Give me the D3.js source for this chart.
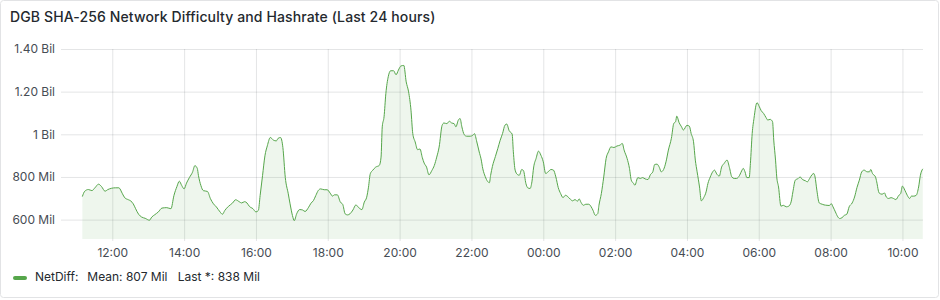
<!DOCTYPE html>
<html><head><meta charset="utf-8">
<script src="https://cdn.jsdelivr.net/npm/d3@7"></script>
<style>
body{margin:0;background:#fff;}
svg{display:block;font-family:Inter,"Noto Sans",sans-serif;}
</style>
</head><body>
<svg id="c" width="940" height="300"></svg>
<script>
const chartTitle = "DGB SHA-256 Network Difficulty and Hashrate (Last 24 hours)";
const rangeStart = "10:34:20";
const rangeEnd = "10:34:20";
const times = [
"11:10","11:14","11:20","11:26","11:31","11:37","11:42","11:48","11:52","11:59",
"12:05","12:11","12:17","12:21","12:27","12:31","12:35","12:39","12:44","12:49",
"12:55","13:02","13:06","13:11","13:17","13:23","13:31","13:38","13:43","13:48",
"13:52","13:56","14:00","14:04","14:09","14:14","14:18","14:22","14:24","14:28",
"14:32","14:39","14:44","14:49","14:54","15:00","15:04","15:08","15:14","15:21",
"15:26","15:32","15:36","15:41","15:45","15:49","15:55","16:00","16:04","16:07",
"16:11","16:15","16:19","16:24","16:29","16:34","16:37","16:41","16:45","16:49",
"16:54",
"16:57","17:01","17:04","17:08","17:13","17:18","17:22","17:28","17:32","17:36",
"17:40","17:44","17:48","17:54","17:59","18:04","18:08","18:11","18:16","18:21",
"18:25","18:29","18:33","18:37","18:42","18:47","18:51","18:57","19:01","19:05",
"19:08","19:11","19:15","19:20","19:26","19:29","19:31","19:34","19:37","19:41",
"19:45","19:50","19:54","19:58","20:02","20:07","20:11","20:15","20:19","20:22",
"20:26","20:30","20:34","20:38","20:41","20:45","20:49","20:54","20:58","21:02",
"21:06","21:11","21:14","21:19","21:23","21:27","21:31","21:34","21:38","21:41",
"21:44","21:48","21:52","21:58","22:02","22:05","22:09","22:13","22:16","22:19",
"22:23","22:27","22:30","22:32","22:35","22:40","22:44","22:48",
"22:52","22:56","22:59","23:03","23:08","23:10","23:13","23:17","23:20","23:24",
"23:27","23:31","23:34","23:38","23:41","23:44","23:48","23:52","23:56","00:00",
"00:04","00:08","00:13","00:17","00:21","00:25","00:29","00:33","00:37","00:40",
"00:45","00:49","00:53","00:57","01:00","01:03","01:07","01:11","01:16","01:20",
"01:23","01:27","01:31","01:33","01:37","01:41","01:45","01:49","01:53","01:58",
"02:03","02:08","02:12","02:15","02:20","02:24","02:27","02:31","02:33","02:38",
"02:42","02:46","02:50","02:55","02:59","03:03","03:06","03:10","03:14","03:17",
"03:21","03:25","03:29","03:34","03:38","03:41","03:43","03:47","03:51","03:54",
"04:00","04:04","04:07","04:11","04:14","04:17","04:21","04:24","04:28","04:32",
"04:35","04:39",
"04:43","04:46","04:50","04:54","04:58","05:02","05:07","05:11","05:15","05:19",
"05:23","05:28","05:32","05:34","05:37","05:40","05:44","05:46","05:49","05:52",
"05:57","06:01","06:04","06:08","06:12","06:15","06:19","06:23","06:25","06:28",
"06:30","06:33","06:37","06:41","06:46","06:50","06:54","06:57","07:01","07:06",
"07:09","07:13","07:18","07:21","07:25","07:29","07:32","07:34","07:37","07:41",
"07:46","07:49","07:54","07:58","08:01","08:04","08:08","08:12","08:15","08:19",
"08:23","08:27","08:31","08:36","08:40","08:44","08:48","08:52","08:56","09:01",
"09:05","09:07","09:10","09:15","09:17","09:21","09:26","09:30","09:33","09:37",
"09:41","09:45","09:49","09:54","09:57","10:00","10:04","10:08","10:12","10:15",
"10:19","10:23","10:27","10:30","10:34"
];
const values = [
708,733,741,736,749,766,755,733,740,747,
749,749,721,702,693,687,674,651,625,612,
606,597,612,623,636,654,656,651,713,755,
780,760,744,771,798,822,853,840,806,760,
736,732,698,674,659,636,625,643,662,678,
693,684,678,684,678,662,651,636,643,713,
806,899,946,985,973,969,981,985,938,798,
721,
674,619,595,627,647,645,638,658,677,689,
713,736,744,740,740,724,710,716,716,682,
671,627,622,627,645,669,658,647,682,705,
752,815,831,846,854,893,1035,1082,1191,1270,
1298,1298,1279,1301,1320,1323,1246,1199,1113,1003,
964,928,931,890,865,846,810,831,854,893,
940,1042,1053,1050,1061,1053,1050,1035,1066,1074,
1035,998,991,991,995,1003,964,917,885,838,
802,779,773,807,849,896,933,972,
1004,1043,1048,1017,1001,918,832,811,808,835,
829,769,749,746,777,847,887,921,902,871,
816,824,835,832,800,750,722,703,714,710,
696,688,694,686,697,681,667,672,672,660,
644,620,628,667,722,800,887,918,941,938,
945,949,957,926,887,840,785,769,761,797,
793,797,791,788,811,824,858,860,844,824,
835,871,926,981,1051,1059,1085,1054,1035,1020,
1042,1038,1004,965,879,824,753,688,703,730,
769,800,
824,832,813,804,847,863,879,844,800,793,
793,808,832,840,824,797,797,863,1004,1075,
1148,1129,1111,1098,1079,1067,1070,1059,973,879,
800,753,663,667,660,663,683,730,785,793,
800,788,782,777,793,811,816,800,738,678,
672,669,667,666,675,660,636,613,605,609,
620,625,660,678,706,750,785,824,832,824,
824,835,816,800,777,725,719,725,706,699,
703,699,694,714,722,757,738,714,699,710,
710,714,753,808,838
];
const yTickValues = [600, 800, 1000, 1200, 1400];
const yTickLabels = ["600 Mil", "800 Mil", "1 Bil", "1.20 Bil", "1.40 Bil"];
const seriesName = "NetDiff:";
const legendMean = "Mean: 807 Mil";
const legendLast = "Last *: 838 Mil";

function hm(s){ return s.split(":").map(Number); }
const baseY = 2024, baseM = 0, baseD = 1;
let day = 0, prev = -1;
const data = times.map((t, i) => {
  const [h, m] = hm(t);
  const mins = h * 60 + m;
  if (mins < prev) day += 1;
  prev = mins;
  return { t: new Date(baseY, baseM, baseD + day, h, m), v: values[i] };
});
const [sh, sm, ss] = hm(rangeStart);
const [eh, em, es] = hm(rangeEnd);
const t0 = new Date(baseY, baseM, baseD, sh, sm, ss);
const t1 = new Date(baseY, baseM, baseD + 1, eh, em, es);

const svg = d3.select("#c");
const L = 61, R = 923, T = 49, B = 239;
const green = "#56A64B";
const gridColor = "rgba(36,41,46,0.12)";
const textColor = "#464c54";

svg.append("rect").attr("x", 0.5).attr("y", 0.5).attr("width", 938).attr("height", 297)
  .attr("rx", 3).attr("fill", "#fff").attr("stroke", "#e2e3e5");

svg.append("text").attr("x", 10).attr("y", 21.5).text(chartTitle)
  .attr("font-size", 14).attr("font-weight", 500).attr("fill", "#24292e")
  .attr("letter-spacing", "0.12px");

const x = d3.scaleTime().domain([t0, t1]).range([L, R]);
const y = d3.scaleLinear().domain([509, 1400]).range([B, T]);

const yAxis = d3.axisLeft(y).tickValues(yTickValues)
  .tickFormat((d, i) => yTickLabels[i]).tickSize(-(R - L)).tickPadding(6);
const gy = svg.append("g").attr("transform", `translate(${L},0)`).call(yAxis);
gy.select(".domain").remove();
gy.selectAll("line").attr("stroke", gridColor);
gy.selectAll("text").attr("font-size", 12).attr("fill", textColor).attr("font-family", "Inter");

const xAxis = d3.axisBottom(x).ticks(d3.timeHour.every(2))
  .tickFormat(d3.timeFormat("%H:%M")).tickSize(-(B - T)).tickPadding(9);
const gx = svg.append("g").attr("transform", `translate(0,${B})`).call(xAxis);
gx.select(".domain").remove();
gx.selectAll("line").attr("stroke", gridColor).attr("y1", 2);
gx.selectAll("text").attr("font-size", 12).attr("fill", textColor).attr("font-family", "Inter");

const area = d3.area().x(d => x(d.t)).y0(B).y1(d => y(d.v)).curve(d3.curveMonotoneX);
const line = d3.line().x(d => x(d.t)).y(d => y(d.v)).curve(d3.curveMonotoneX);
svg.append("path").datum(data).attr("d", area).attr("fill", green).attr("fill-opacity", 0.1);
svg.append("path").datum(data).attr("d", line).attr("fill", "none")
  .attr("stroke", green).attr("stroke-width", 1);

svg.append("rect").attr("x", 13).attr("y", 276).attr("width", 14).attr("height", 4)
  .attr("rx", 2).attr("fill", green);
const lg = svg.append("g").attr("font-size", 12).attr("fill", "#24292e");
lg.append("text").attr("x", 35).attr("y", 281).text(seriesName);
lg.append("text").attr("x", 87.3).attr("y", 281).text(legendMean);
lg.append("text").attr("x", 177.7).attr("y", 281).text(legendLast);
</script>
</body></html>
